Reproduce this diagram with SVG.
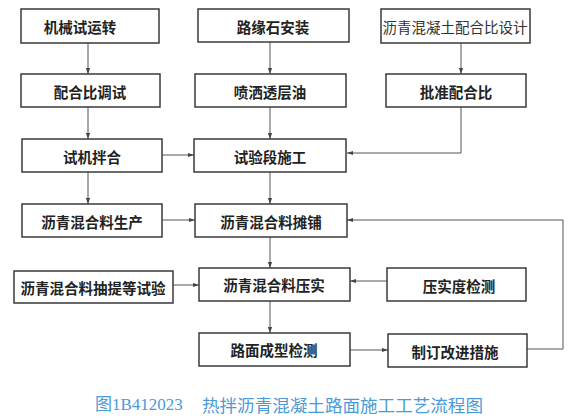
<svg xmlns="http://www.w3.org/2000/svg" width="574" height="419" viewBox="0 0 574 419">
<defs>
<style>
.box{fill:#ffffff;stroke:#3a3a3a;stroke-width:1.5}
.t{font-family:"Noto Sans CJK SC","Noto Sans CJK JP",sans-serif;font-size:14.5px;font-weight:bold;fill:#222;text-anchor:middle;dominant-baseline:central}
.tl{font-weight:normal;fill:#333}
.c{fill:none;stroke:#555;stroke-width:1}
.cap{font-family:"Noto Sans CJK SC",sans-serif;font-size:17px;fill:#4a9ad6;dominant-baseline:central}
</style>
<marker id="ah" viewBox="0 0 10 10" refX="10" refY="5" markerWidth="6" markerHeight="6" orient="auto" markerUnits="userSpaceOnUse">
<path d="M0,1.5 L10,5 L0,8.5 Z" fill="#444"/>
</marker>
</defs>
<rect width="574" height="419" fill="#ffffff"/>
<g id="connectors">
<line class="c" x1="88" y1="43" x2="88" y2="74" marker-end="url(#ah)"/>
<line class="c" x1="88" y1="107" x2="88" y2="139" marker-end="url(#ah)"/>
<line class="c" x1="88" y1="172" x2="88" y2="204" marker-end="url(#ah)"/>
<line class="c" x1="270" y1="42" x2="270" y2="74" marker-end="url(#ah)"/>
<line class="c" x1="270" y1="107" x2="270" y2="139" marker-end="url(#ah)"/>
<line class="c" x1="270" y1="172" x2="270" y2="204" marker-end="url(#ah)"/>
<line class="c" x1="270" y1="237" x2="270" y2="268" marker-end="url(#ah)"/>
<line class="c" x1="270" y1="301" x2="270" y2="333" marker-end="url(#ah)"/>
<line class="c" x1="461" y1="43" x2="461" y2="74" marker-end="url(#ah)"/>
<polyline class="c" points="461,107 461,153 347,153" marker-end="url(#ah)"/>
<line class="c" x1="162" y1="155" x2="194" y2="155" marker-end="url(#ah)"/>
<line class="c" x1="162" y1="220" x2="195" y2="220" marker-end="url(#ah)"/>
<line class="c" x1="173" y1="285" x2="199" y2="285" marker-end="url(#ah)"/>
<line class="c" x1="387" y1="281" x2="350" y2="281" marker-end="url(#ah)"/>
<line class="c" x1="350" y1="350" x2="388" y2="350" marker-end="url(#ah)"/>
<polyline class="c" points="527,349 563,349 563,220 347,220" marker-end="url(#ah)"/>
</g>
<g id="n1"><rect class="box" x="21" y="9" width="138" height="34"/><text class="t" x="80" y="26">机械试运转</text></g>
<g id="n2"><rect class="box" x="21" y="74" width="139" height="33"/><text class="t" x="90" y="91">配合比调试</text></g>
<g id="n3"><rect class="box" x="22" y="139" width="140" height="33"/><text class="t" x="92" y="156">试机拌合</text></g>
<g id="n4"><rect class="box" x="22" y="204" width="140" height="33"/><text class="t" x="92" y="221">沥青混合料生产</text></g>
<g id="n5"><rect class="box" x="14" y="271" width="159" height="32"/><text class="t" x="93" y="287">沥青混合料抽提等试验</text></g>
<g id="n6"><rect class="box" x="198" y="9" width="151" height="33"/><text class="t" x="273" y="26">路缘石安装</text></g>
<g id="n7"><rect class="box" x="195" y="74" width="151" height="33"/><text class="t" x="270" y="91">喷洒透层油</text></g>
<g id="n8"><rect class="box" x="194" y="139" width="152" height="33"/><text class="t" x="270" y="156">试验段施工</text></g>
<g id="n9"><rect class="box" x="195" y="204" width="152" height="33"/><text class="t" x="271" y="221">沥青混合料摊铺</text></g>
<g id="n10"><rect class="box" x="199" y="268" width="151" height="33"/><text class="t" x="274" y="284">沥青混合料压实</text></g>
<g id="n11"><rect class="box" x="199" y="333" width="151" height="33"/><text class="t" x="274" y="349">路面成型检测</text></g>
<g id="n12"><rect class="box" x="381" y="9" width="149" height="34"/><text class="t tl" x="455" y="26">沥青混凝土配合比设计</text></g>
<g id="n13"><rect class="box" x="386" y="74" width="140" height="33"/><text class="t" x="456" y="91">批准配合比</text></g>
<g id="n14"><rect class="box" x="387" y="268" width="139" height="33"/><text class="t" x="459" y="285">压实度检测</text></g>
<g id="n15"><rect class="box" x="388" y="334" width="139" height="33"/><text class="t" x="455" y="351">制订改进措施</text></g>
<g id="caption">
<text class="cap" x="95" y="404" style="font-family:'Liberation Serif','Noto Sans CJK SC',serif">图1B412023</text>
<text class="cap" x="202" y="404" textLength="281" lengthAdjust="spacingAndGlyphs">热拌沥青混凝土路面施工工艺流程图</text>
</g>
</svg>
